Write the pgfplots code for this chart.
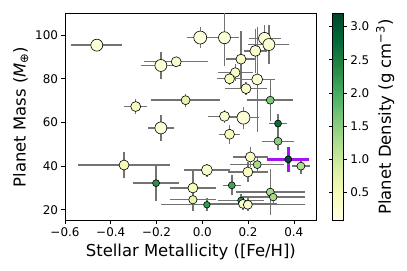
\documentclass[border=0pt]{standalone}
\usepackage{fontspec}
\setmainfont{DejaVu Sans}
\usepackage{pgfplots}
\pgfplotsset{compat=1.18}
\usepackage{pgfplotstable}
\definecolor{purp}{RGB}{165,20,240}
\definecolor{ebar}{RGB}{115,115,115}
\pgfplotstableread{
x y ex ey c s
-0.461 95.4 0.111 2 0.22 6
-0.009 98.9 0.060 5 0.15 6.5
0.097 98.8 0.065 13 0.2 6
0.272 98.5 0.070 6 0.25 6
0.291 95.7 0.090 9 0.25 6
0.232 92.8 0.050 10 0.3 5.5
0.169 89.0 0.066 13 0.35 5
-0.181 86.1 0.088 6 0.2 6
-0.114 87.8 0.140 2 0.3 5
0.144 82.9 0.077 4 0.35 4.8
0.119 80.0 0.055 3 0.45 5
0.240 79.7 0.076 24 0.25 5.5
0.191 75.5 0.090 3 0.35 5
0.297 70.2 0.100 9.6 1.6 4
-0.291 67.3 0.050 3.4 0.4 5
-0.073 70.2 0.150 3 0.7 4.5
0.097 62.8 0.073 3 0.3 5
0.180 62.2 0.070 5 0.2 6.5
0.331 59.5 0.038 4.2 2.7 3.5
-0.181 57.5 0.058 6 0.2 6
0.119 54.6 0.044 4.3 0.45 5
0.331 51.4 0.070 4 1.5 4
0.210 44.2 0.077 4.5 0.4 5
0.376 43.1 0.092 5.6 3.1 3.5
-0.342 40.5 0.200 6 0.45 5
0.240 40.7 0.117 3 1.3 4
0.431 40.0 0.040 3.5 1.2 4
0.020 38.2 0.100 3 0.3 5.5
0.199 37.3 0.088 4.5 0.4 5
-0.202 32.2 0.100 8 2.3 3.5
0.129 31.2 0.040 4.6 2.1 3.5
-0.041 30.0 0.100 8 0.45 5
0.297 28.1 0.150 10.5 1.3 4
0.310 25.8 0.140 3 1.3 3.8
-0.041 24.6 0.100 5 0.7 4.2
0.169 24.3 0.100 3 2.3 3.3
0.020 22.3 0.200 3 2.2 3.3
0.178 22.7 0.150 3 0.35 4.5
0.199 22.3 0.250 3 0.35 4.5
}\data
\begin{document}
\begin{tikzpicture}
\begin{axis}[
  name=main,
  scale only axis, width=251.7bp, height=207.4bp,
  xmin=-0.6, xmax=0.5, ymin=15, ymax=110,
  xtick={-0.6,-0.4,-0.2,0,0.2,0.4},
  xticklabels={−0.6,−0.4,−0.2,0.0,0.2,0.4},
  ytick={20,40,60,80,100},
  tick align=outside, tick pos=left,
  major tick length=3.5bp,
  tick style={black, line width=0.6pt},
  axis line style={black, line width=0.6pt},
  tick label style={font=\fontsize{12}{14}\selectfont},
  /pgf/number format/assume math mode=true,
  label style={font=\fontsize{16.5}{19}\selectfont},
  xlabel={Stellar Metallicity ([Fe/H])},
  ylabel={Planet Mass ({\itshape M}\textsubscript{⊕})},
  colormap={YlGn}{rgb255=(255,255,229) rgb255=(247,252,185) rgb255=(217,240,163) rgb255=(173,221,142) rgb255=(120,198,121) rgb255=(65,171,93) rgb255=(35,132,67) rgb255=(0,104,55) rgb255=(0,69,41)},
  point meta min=0.07, point meta max=3.2,
  colorbar,
  colorbar shift/.style={xshift=16bp},
  colorbar style={
    at={(parent axis.north east)}, anchor=north west,
    width=10.6bp,
    ytick={0.5,1,1.5,2,2.5,3},
    tick align=outside, major tick length=3.5bp,
    yticklabel style={font=\fontsize{12}{14}\selectfont, /pgf/number format/.cd, fixed, fixed zerofill, precision=1, assume math mode=true},
    ylabel={Planet Density (g cm\textsuperscript{−3})},
    ylabel style={font=\fontsize{16.5}{19}\selectfont},
    axis line style={black, line width=0.6pt},
  },
]
\addplot[only marks, mark=none, forget plot,
  error bars/.cd, x dir=both, x explicit, y dir=both, y explicit,
  error mark=none, error bar style={color=ebar, line width=1.4pt}]
  table[x=x, y=y, x error=ex, y error=ey] {\data};
\addplot[only marks, mark=none, forget plot,
  error bars/.cd, x dir=both, x explicit, y dir=both, y explicit,
  error mark=none, error bar style={color=purp, line width=2.4pt}]
  coordinates {(0.376,43.1) +- (0.092,5.6)};
\addplot[scatter, only marks, mark=*,
  scatter src=explicit,
  scatter/use mapped color={draw=black, fill=mapped color},
  visualization depends on={\thisrow{s} \as \msize},
  scatter/@pre marker code/.append style={/tikz/mark size=\msize},
  mark options={line width=0.6pt}]
  table[x=x, y=y, meta=c] {\data};
\end{axis}
\pgfresetboundingbox
\path (main.south west) ++(-65bp,-50.3bp) rectangle ++(407bp,271bp);
\end{tikzpicture}
\end{document}
